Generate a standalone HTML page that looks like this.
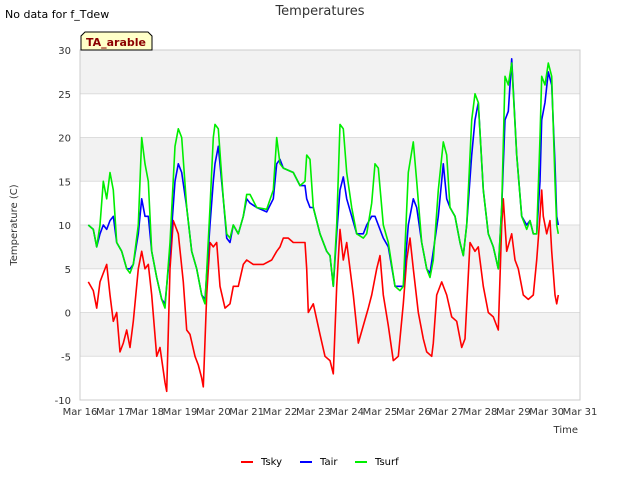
<!DOCTYPE html>
<html><head><meta charset="utf-8"><style>
body{margin:0;background:#fff;font-family:"Liberation Sans","DejaVu Sans",sans-serif;}
svg text{font-family:"DejaVu Sans","Liberation Sans",sans-serif;}
</style></head><body>
<svg id="chart" width="640" height="480" xmlns="http://www.w3.org/2000/svg">
<rect width="640" height="480" fill="#fff"/>
<g id="bands"></g>
<g id="grid"></g>
<rect x="80" y="50" width="500" height="350" fill="none" stroke="#ccc"/>
<g id="yticks"></g>
<g id="xticks"></g>
<g id="series"></g>
<text x="320" y="15" text-anchor="middle" font-size="13" fill="#333">Temperatures</text>
<text x="5" y="18" font-size="11" fill="#000">No data for f_Tdew</text>
<g>
<path d="M81,50 L81,36 L85,32 L148,32 L152,36 L152,50 Z" fill="#ffffc8" stroke="#000"/>
<text x="116" y="46" text-anchor="middle" font-size="11" font-weight="bold" fill="#8b0000">TA_arable</text>
</g>
<text x="17" y="225" text-anchor="middle" font-size="10" fill="#333" transform="rotate(-90 17 225)">Temperature (C)</text>
<text x="578" y="433" text-anchor="end" font-size="10" fill="#333">Time</text>
<g id="legend"></g>
</svg>
<script>
const yTicks=[-10,-5,0,5,10,15,20,25,30];
const xTickLabels=["Mar 16","Mar 17","Mar 18","Mar 19","Mar 20","Mar 21","Mar 22","Mar 23","Mar 24","Mar 25","Mar 26","Mar 27","Mar 28","Mar 29","Mar 30","Mar 31"];
const tA=[0.25,0.4,0.5,0.6,0.7,0.8,0.9,1.0,1.1,1.25,1.4,1.5,1.6,1.75,1.85,1.95,2.05,2.15,2.3,2.45,2.55,2.7,2.85,2.95,3.05,3.2,3.35,3.5,3.65,3.75,3.9,4.0,4.05,4.15,4.3,4.4,4.5,4.6,4.75,4.9,5.0,5.1,5.3,5.6,5.8,5.9,6.0,6.1,6.4,6.6,6.75,6.8,6.9,7.0,7.2,7.4,7.5,7.6,7.7,7.8,7.9,8.0,8.15,8.3,8.5,8.6,8.75,8.85,8.95,9.1,9.25,9.45,9.6,9.7,9.85,10.0,10.1,10.25,10.4,10.5,10.6,10.75,10.9,11.0,11.1,11.25,11.4,11.5,11.6,11.75,11.85,11.95,12.1,12.25,12.4,12.55,12.65,12.75,12.85,12.95,13.1,13.25,13.4,13.5,13.6,13.7,13.8,13.85,13.95,14.05,14.15,14.25,14.3,14.35];
const tsurf=[10,9.5,7.5,10,15,13,16,14,8,7,5,4.5,5.5,10,20,17,15,7,4,1.5,0.5,8,19,21,20,12,7,5,2,1,12,20,21.5,21,13,9,8.5,10,9,11,13.5,13.5,12,11.8,14,20,17,16.5,16,14.5,15,18,17.5,12,9,7,6.5,3,10,21.5,21,16,12,9,8.5,9,12.5,17,16.5,10,8,3,2.5,3,16,19.5,15,8,5,4,6,14,19.5,18,12,11,8,6.5,10,22,25,24,14,9,7.5,5,12,27,26,28.5,18,11,9.5,10.5,9,9,20,27,26,28.5,27,15,10,9];
const tair=[10,9.5,7.5,9,10,9.5,10.5,11,8,7,5,5,5.5,9,13,11,11,7,4,1.5,1,7,15,17,16,12,7,5,2,1.5,10,15,17,19,13,8.5,8,10,9,11,13,12.5,12,11.5,13,17,17.5,16.5,16,14.5,14.5,13,12,12,9,7,6.5,3,9,14,15.5,13,11,9,9,10,11,11,10,8.5,7.5,3,3,3,10,13,12,8,5,4.5,7,11,17,13,12,11,8,6.5,10,18,22,24,14,9,7.5,5,12,22,23,29,18,11,10,10.5,9,9,15,22,24,27.5,26,17,11,10];
const tS=[0.25,0.4,0.5,0.6,0.7,0.8,0.9,1.0,1.1,1.2,1.3,1.4,1.5,1.6,1.75,1.85,1.95,2.05,2.15,2.3,2.4,2.55,2.6,2.7,2.8,2.95,3.1,3.2,3.3,3.45,3.55,3.65,3.7,3.8,3.9,4.0,4.1,4.2,4.35,4.5,4.6,4.75,4.9,5.0,5.2,5.5,5.75,5.9,6.0,6.1,6.25,6.4,6.6,6.75,6.8,6.85,7.0,7.2,7.35,7.5,7.6,7.7,7.8,7.9,8.0,8.2,8.35,8.5,8.65,8.75,8.9,9.0,9.1,9.25,9.4,9.55,9.7,9.8,9.9,10.0,10.15,10.3,10.4,10.55,10.6,10.7,10.85,11.0,11.15,11.3,11.45,11.55,11.7,11.85,11.95,12.1,12.25,12.4,12.55,12.65,12.7,12.8,12.95,13.05,13.15,13.3,13.45,13.6,13.7,13.8,13.85,13.9,14.0,14.1,14.15,14.25,14.3,14.35];
const tsky=[3.5,2.5,0.5,3.5,4.5,5.5,2,-1,0,-4.5,-3.5,-2,-4,-1,5,7,5,5.5,2,-5,-4,-8,-9,5,10.5,9,3.5,-2,-2.5,-5,-6,-7.5,-8.5,2,8,7.5,8,3,0.5,1,3,3,5.5,6,5.5,5.5,6,7,7.5,8.5,8.5,8,8,8,5,0,1,-2.5,-5,-5.5,-7,3,9.5,6,8,2,-3.5,-1.5,0.5,2,5,6.5,2,-1.5,-5.5,-5,1,6,8.5,5,0,-3,-4.5,-5,-3.5,2,3.5,2,-0.5,-1,-4,-3,8,7,7.5,3,0,-0.5,-2,10,13,7,9,6,5,2,1.5,2,6,11,14,11,9,10.5,7,2,1,2];
const NS="http://www.w3.org/2000/svg";
const X0=80,X1=580,Y0=400,Y1=50;
function xs(d){return X0+(X1-X0)*d/15;}
function ys(v){return Y0-(Y0-Y1)*(v+10)/40;}
function mk(tag,attrs,parent){const e=document.createElementNS(NS,tag);for(const k in attrs)e.setAttribute(k,attrs[k]);parent.appendChild(e);return e;}
const bands=document.getElementById('bands');
for(let v=-5;v<30;v+=10){const r=mk('rect',{x:X0,y:ys(v+5),width:X1-X0,height:ys(v)-ys(v+5),fill:'#f2f2f2'},bands);

}
const grid=document.getElementById('grid'),yt=document.getElementById('yticks');
yTicks.forEach(v=>{const l=mk('line',{x1:X0,x2:X1,y1:ys(v),y2:ys(v),stroke:'#ddd'},grid);


const t=mk('text',{x:71,y:ys(v)+4,'text-anchor':'end','font-size':10,fill:'#333'},yt);t.textContent=v;

});
const xt=document.getElementById('xticks');
xTickLabels.forEach((s,i)=>{const t=mk('text',{x:xs(i),y:415,'text-anchor':'middle','font-size':10,fill:'#333'},xt);t.textContent=s;

});
const ser=document.getElementById('series');
function line(ts,vs,col,name){const d=ts.map((t,i)=>(i?'L':'M')+xs(t).toFixed(1)+','+ys(vs[i]).toFixed(1)).join('');
const p=mk('path',{d:d,fill:'none',stroke:col,'stroke-width':1.6,'stroke-linejoin':'round'},ser);

}
line(tS,tsky,'#ff0000','tsky-line');
line(tA,tair,'#0000ff','tair-line');
line(tA,tsurf,'#00ee00','tsurf-line');
const leg=document.getElementById('legend');
[['Tsky','#ff0000',241],['Tair','#0000ff',300],['Tsurf','#00ee00',355]].forEach(([n,c,x])=>{
const g=mk('g',{},leg);


mk('line',{x1:x,x2:x+12,y1:462,y2:462,stroke:c,'stroke-width':2},g);
const t=mk('text',{x:x+20,y:465,'font-size':10,fill:'#000'},g);t.textContent=n;});
</script>
</body></html>
